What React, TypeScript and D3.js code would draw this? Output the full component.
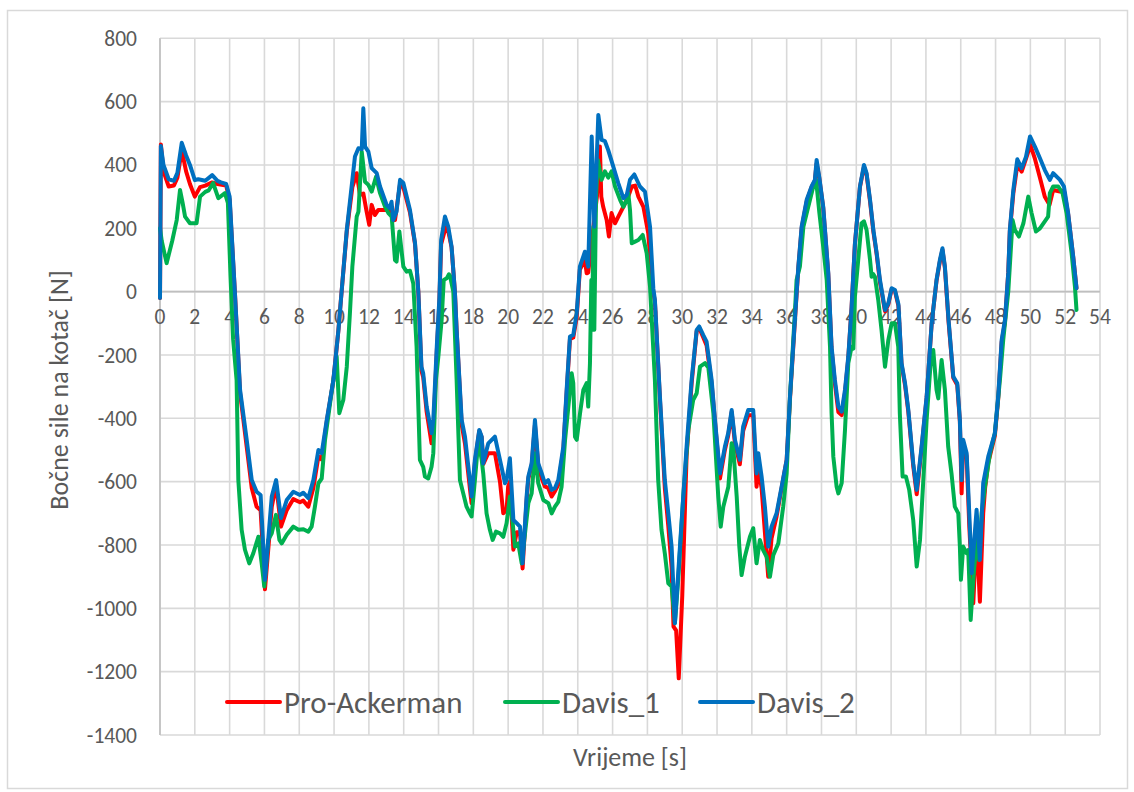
import React from "react";
import * as d3 from "d3";

// ---- data (time [s], lateral force [N]) ----
const xTicks = [0,2,4,6,8,10,12,14,16,18,20,22,24,26,28,30,32,34,36,38,40,42,44,46,48,50,52,54];
const yTicks = [800,600,400,200,0,-200,-400,-600,-800,-1000,-1200,-1400];
const seriesNames = ["Pro-Ackerman", "Davis_1", "Davis_2"];
const seriesColors = ["#FF0000", "#00B050", "#0070C0"];

const proAckerman: [number, number][] = [
  [0,-20],[0.05,465],[0.2,380],[0.5,332],[0.8,335],[1.0,360],[1.25,447],[1.5,380],[1.72,340],[2.0,300],[2.3,330],[2.6,335],[3.0,345],[3.3,340],[3.8,335],[4.0,290],[4.3,0],[4.6,-320],[4.98,-490],[5.27,-620],[5.55,-679],[5.78,-690],[6.03,-940],[6.42,-680],[6.67,-610],[6.95,-742],[7.28,-690],[7.66,-655],[8.04,-665],[8.23,-660],[8.52,-679],[8.81,-620],[9.1,-520],[9.29,-530],[9.58,-410],[9.96,-280],[10.25,-121],[10.44,5],[10.73,190],[11.05,330],[11.3,374],[11.49,305],[11.68,310],[11.87,253],[12.02,211],[12.16,274],[12.35,242],[12.54,258],[12.83,258],[13.2,258],[13.5,226],[13.79,340],[13.98,330],[14.36,250],[14.65,150],[14.84,0],[15.02,-250],[15.12,-270],[15.32,-380],[15.6,-479],[15.7,-440],[15.9,-190],[16.05,-30],[16.15,150],[16.47,215],[16.75,140],[16.94,0],[17.04,-121],[17.33,-420],[17.52,-480],[17.8,-620],[17.9,-668],[18.09,-540],[18.34,-440],[18.48,-460],[18.57,-545],[18.86,-510],[19.24,-510],[19.53,-600],[19.72,-700],[19.91,-690],[20.0,-615],[20.1,-600],[20.3,-815],[20.49,-760],[20.68,-760],[20.83,-874],[21.06,-660],[21.16,-590],[21.35,-550],[21.54,-420],[21.73,-550],[21.93,-590],[22.11,-615],[22.3,-620],[22.5,-647],[22.69,-630],[22.88,-610],[23.17,-500],[23.36,-320],[23.55,-150],[23.74,-145],[23.94,-80],[24.12,70],[24.41,100],[24.51,58],[24.6,60],[24.9,205],[25.1,300],[25.27,458],[25.35,300],[25.46,268],[25.66,226],[25.79,174],[25.94,248],[26.14,216],[26.33,237],[26.62,268],[26.9,300],[27.1,332],[27.3,335],[27.48,300],[27.77,268],[28.05,184],[28.3,10],[28.43,-30],[28.72,-340],[29.0,-620],[29.2,-740],[29.39,-870],[29.5,-1058],[29.65,-1070],[29.8,-1221],[30.0,-963],[30.25,-520],[30.54,-290],[30.83,-125],[30.98,-115],[31.21,-145],[31.4,-170],[31.69,-290],[31.88,-410],[32.17,-590],[32.45,-500],[32.64,-455],[32.84,-380],[33.03,-480],[33.31,-545],[33.5,-440],[33.79,-390],[34.08,-390],[34.27,-616],[34.37,-560],[34.56,-620],[34.75,-760],[34.94,-900],[35.13,-780],[35.42,-710],[35.71,-620],[36.0,-531],[36.19,-340],[36.47,-95],[36.67,75],[36.86,200],[37.15,285],[37.43,330],[37.62,350],[37.72,405],[37.87,360],[38.1,265],[38.39,55],[38.58,-180],[38.77,-290],[38.97,-380],[39.16,-390],[39.35,-320],[39.54,-210],[39.73,-50],[39.92,150],[40.21,330],[40.44,395],[40.59,370],[40.79,285],[40.98,190],[41.17,118],[41.36,30],[41.65,-62],[41.84,-40],[42.03,8],[42.22,2],[42.42,-45],[42.6,-230],[42.8,-295],[42.99,-380],[43.27,-550],[43.47,-640],[43.75,-495],[44.04,-335],[44.33,-100],[44.61,35],[44.8,95],[44.95,132],[45.09,75],[45.3,-95],[45.57,-272],[45.8,-295],[45.95,-410],[46.05,-637],[46.14,-480],[46.34,-520],[46.49,-740],[46.72,-984],[46.91,-760],[47.1,-979],[47.29,-700],[47.4,-620],[47.58,-540],[47.96,-455],[48.15,-340],[48.35,-160],[48.54,-95],[48.73,60],[48.82,190],[49.02,310],[49.25,400],[49.5,379],[49.75,420],[50.0,463],[50.26,420],[50.55,360],[50.83,300],[51.1,274],[51.31,321],[51.7,316],[51.93,320],[52.17,245],[52.46,110],[52.65,11]
];

const davis1: [number, number][] = [
  [0,200],[0.1,160],[0.38,90],[0.7,160],[0.96,226],[1.15,321],[1.3,280],[1.44,237],[1.72,216],[2.1,216],[2.3,300],[2.6,315],[2.8,320],[3.05,343],[3.35,295],[3.73,311],[3.9,280],[4.05,50],[4.2,-150],[4.4,-279],[4.5,-595],[4.69,-752],[4.88,-815],[5.13,-858],[5.36,-826],[5.65,-774],[5.84,-858],[5.99,-931],[6.22,-784],[6.42,-763],[6.66,-705],[6.86,-784],[6.99,-795],[7.28,-768],[7.66,-742],[7.95,-752],[8.24,-750],[8.52,-758],[8.71,-742],[8.9,-679],[9.1,-605],[9.29,-590],[9.48,-468],[9.77,-352],[9.96,-279],[10.15,-205],[10.3,-384],[10.53,-342],[10.73,-237],[10.91,-68],[11.05,79],[11.3,237],[11.4,253],[11.59,442],[11.78,347],[11.97,337],[12.16,316],[12.41,363],[12.64,311],[12.93,268],[13.12,248],[13.31,237],[13.5,100],[13.59,95],[13.75,190],[13.98,79],[14.17,63],[14.36,66],[14.55,26],[14.74,-174],[14.93,-531],[15.12,-553],[15.22,-584],[15.41,-590],[15.6,-553],[15.7,-510],[15.85,-279],[15.99,-205],[16.18,-89],[16.3,37],[16.47,42],[16.6,55],[16.66,50],[16.85,0],[17.04,-279],[17.23,-595],[17.42,-637],[17.61,-679],[17.8,-700],[17.9,-710],[18.09,-595],[18.29,-468],[18.48,-531],[18.57,-574],[18.76,-700],[18.95,-752],[19.11,-784],[19.3,-758],[19.53,-763],[19.72,-774],[19.91,-731],[20.1,-647],[20.26,-731],[20.39,-805],[20.58,-795],[20.78,-858],[20.97,-763],[21.16,-668],[21.35,-637],[21.54,-510],[21.73,-605],[22.02,-658],[22.31,-668],[22.5,-700],[22.69,-679],[22.88,-664],[23.07,-616],[23.27,-468],[23.46,-363],[23.65,-258],[23.74,-289],[23.84,-458],[23.94,-468],[24.13,-384],[24.32,-310],[24.51,-289],[24.6,-363],[24.7,-226],[24.78,37],[24.82,-120],[24.9,205],[24.95,-120],[25.05,300],[25.15,416],[25.37,353],[25.56,380],[25.75,360],[25.94,380],[26.14,332],[26.43,290],[26.62,268],[26.81,290],[26.9,311],[27.0,258],[27.1,153],[27.29,158],[27.48,163],[27.73,179],[27.96,121],[28.15,16],[28.43,-279],[28.62,-595],[28.81,-752],[29.0,-826],[29.2,-921],[29.39,-931],[29.58,-1047],[29.77,-910],[30.06,-647],[30.35,-437],[30.63,-342],[30.83,-321],[31.02,-237],[31.31,-226],[31.5,-240],[31.79,-384],[32.07,-647],[32.21,-742],[32.36,-679],[32.65,-616],[32.84,-479],[32.93,-490],[33.13,-647],[33.28,-805],[33.41,-895],[33.6,-837],[33.89,-774],[34.08,-747],[34.27,-858],[34.46,-784],[34.65,-816],[34.85,-837],[35.04,-900],[35.23,-832],[35.52,-795],[35.8,-679],[36.0,-574],[36.19,-332],[36.47,-68],[36.57,37],[36.76,79],[36.96,205],[37.24,268],[37.53,332],[37.69,353],[37.88,248],[38.1,142],[38.3,37],[38.49,-174],[38.58,-384],[38.68,-521],[38.87,-616],[38.97,-637],[39.16,-605],[39.35,-437],[39.54,-226],[39.73,-174],[39.83,-180],[39.92,-16],[40.11,100],[40.3,216],[40.44,222],[40.59,195],[40.79,100],[40.88,47],[40.98,55],[41.07,47],[41.26,-26],[41.45,-121],[41.65,-237],[41.84,-153],[42.03,-100],[42.22,-100],[42.41,-174],[42.5,-384],[42.66,-584],[42.85,-584],[43.04,-626],[43.27,-721],[43.47,-868],[43.66,-784],[43.85,-595],[44.04,-405],[44.27,-226],[44.42,-184],[44.61,-310],[44.71,-337],[44.9,-216],[45.09,-310],[45.28,-490],[45.47,-574],[45.66,-679],[45.86,-700],[45.95,-805],[46.01,-910],[46.14,-805],[46.34,-826],[46.43,-816],[46.57,-1037],[46.72,-910],[46.91,-784],[47.06,-847],[47.2,-700],[47.39,-616],[47.68,-510],[47.96,-447],[48.25,-279],[48.44,-153],[48.73,0],[48.98,226],[49.11,195],[49.34,174],[49.6,216],[49.88,300],[50.07,248],[50.32,190],[50.55,200],[50.83,222],[51.02,237],[51.12,311],[51.31,332],[51.6,332],[51.85,311],[52.08,248],[52.37,121],[52.56,16],[52.65,-58]
];

const davis2: [number, number][] = [
  [0,-20],[0.05,460],[0.2,400],[0.5,355],[0.8,350],[1.0,375],[1.25,470],[1.5,430],[1.72,400],[2.0,352],[2.2,355],[2.6,350],[3.0,368],[3.3,350],[3.5,345],[3.8,340],[4.0,300],[4.3,0],[4.6,-310],[4.98,-468],[5.27,-595],[5.55,-632],[5.78,-642],[6.03,-910],[6.42,-647],[6.67,-595],[6.95,-715],[7.28,-658],[7.66,-632],[8.04,-642],[8.23,-635],[8.52,-652],[8.81,-595],[9.1,-500],[9.29,-510],[9.58,-405],[9.96,-279],[10.25,-121],[10.44,5],[10.73,195],[11.2,427],[11.4,453],[11.59,450],[11.68,579],[11.78,458],[11.97,442],[12.16,390],[12.45,374],[12.64,332],[13.02,274],[13.2,264],[13.3,284],[13.4,226],[13.59,253],[13.79,353],[13.98,343],[14.36,258],[14.65,154],[14.84,0],[15.02,-237],[15.12,-258],[15.32,-363],[15.6,-447],[15.7,-405],[15.9,-174],[16.05,-20],[16.15,163],[16.37,237],[16.56,205],[16.75,142],[16.94,0],[17.04,-121],[17.33,-405],[17.52,-458],[17.8,-595],[17.9,-647],[18.09,-531],[18.34,-437],[18.48,-458],[18.57,-542],[18.76,-500],[18.86,-479],[19.24,-458],[19.53,-531],[19.82,-605],[19.91,-595],[20.1,-526],[20.3,-721],[20.49,-731],[20.68,-742],[20.83,-858],[21.06,-647],[21.16,-584],[21.35,-542],[21.54,-405],[21.73,-542],[21.93,-574],[22.11,-605],[22.3,-595],[22.5,-626],[22.69,-620],[22.88,-595],[23.17,-490],[23.36,-310],[23.55,-142],[23.74,-137],[23.94,-67],[24.12,79],[24.41,126],[24.6,79],[24.8,490],[24.95,205],[25.18,558],[25.37,479],[25.56,475],[25.75,447],[26.04,395],[26.33,342],[26.62,295],[26.81,305],[27.0,353],[27.25,370],[27.57,332],[27.86,316],[28.15,205],[28.34,10],[28.43,-26],[28.72,-332],[29.0,-595],[29.2,-700],[29.39,-805],[29.58,-1047],[29.77,-889],[29.97,-721],[30.25,-490],[30.54,-279],[30.83,-121],[30.98,-110],[31.21,-137],[31.4,-158],[31.69,-279],[31.88,-405],[32.17,-574],[32.45,-490],[32.64,-447],[32.84,-374],[33.03,-468],[33.31,-531],[33.5,-426],[33.79,-374],[34.08,-374],[34.27,-574],[34.37,-510],[34.56,-584],[34.75,-679],[34.94,-805],[35.13,-742],[35.42,-700],[35.71,-616],[36.0,-531],[36.19,-332],[36.47,-90],[36.67,79],[36.86,205],[37.15,290],[37.43,332],[37.62,353],[37.72,416],[37.87,363],[38.1,268],[38.39,60],[38.58,-174],[38.77,-279],[38.97,-363],[39.16,-379],[39.35,-310],[39.54,-205],[39.73,-50],[39.92,150],[40.21,332],[40.44,400],[40.59,374],[40.79,290],[40.98,195],[41.17,122],[41.36,37],[41.65,-58],[41.84,-37],[42.03,11],[42.22,5],[42.42,-40],[42.6,-226],[42.8,-289],[42.99,-374],[43.27,-542],[43.47,-626],[43.75,-490],[44.04,-332],[44.33,-100],[44.61,37],[44.8,100],[44.95,137],[45.09,79],[45.3,-89],[45.57,-268],[45.8,-289],[45.95,-405],[46.05,-595],[46.14,-468],[46.34,-510],[46.49,-700],[46.63,-889],[46.91,-689],[47.1,-847],[47.29,-605],[47.58,-521],[47.96,-447],[48.15,-332],[48.35,-153],[48.54,-89],[48.73,60],[48.82,195],[49.02,321],[49.25,418],[49.5,390],[49.75,426],[49.98,490],[50.26,458],[50.55,421],[50.83,384],[51.12,353],[51.31,374],[51.7,353],[51.93,332],[52.17,248],[52.46,111],[52.65,11]
];

const allSeries = [proAckerman, davis1, davis2];

const W = 1134, H = 792;
const plot = { left: 160, right: 1100, top: 38.3, bottom: 735 };
const FONT = "Calibri, Carlito, Lato, 'Liberation Sans', sans-serif";
const TEXT = "#595959";

export default function App() {
  const x = d3.scaleLinear().domain([0, 54]).range([plot.left, plot.right]);
  const y = d3.scaleLinear().domain([-1400, 800]).range([plot.bottom, plot.top]);
  const line = d3.line<[number, number]>().x(d => x(d[0])).y(d => y(d[1]));

  const legendItems = [
    { lx: 227, tx: 284 },
    { lx: 505, tx: 562 },
    { lx: 700, tx: 757 },
  ];
  const legendY = 702;

  return (
    <svg width={W} height={H} style={{ position: "absolute", left: 0, top: 0, background: "#fff" }}
      fontFamily={FONT}>
      <rect x={0} y={0} width={W} height={H} fill="#fff" />
      <rect x={7.5} y={10.5} width={1120} height={778} fill="none" stroke="#d9d9d9" strokeWidth={1.5} />
      {/* grid */}
      {yTicks.map(t => (
        <line key={"gy" + t} x1={plot.left} x2={plot.right} y1={y(t)} y2={y(t)} stroke="#d9d9d9" strokeWidth={1.6} />
      ))}
      {xTicks.map(t => (
        <line key={"gx" + t} x1={x(t)} x2={x(t)} y1={plot.top} y2={plot.bottom} stroke="#d9d9d9" strokeWidth={1.6} />
      ))}
      <line x1={plot.left} x2={plot.left} y1={plot.top} y2={plot.bottom} stroke="#bfbfbf" strokeWidth={1.6} />
      <line x1={plot.left} x2={plot.right} y1={y(0)} y2={y(0)} stroke="#bfbfbf" strokeWidth={1.6} />
      {/* y tick labels */}
      {yTicks.map(t => (
        <text key={"yl" + t} x={137} y={y(t)} dy="0.35em" textAnchor="end" fontSize={21.5} fill={TEXT}>{t}</text>
      ))}
      {/* x tick labels */}
      {xTicks.map(t => (
        <text key={"xl" + t} x={x(t)} y={y(0) + 32} textAnchor="middle" fontSize={21.5} fill={TEXT}>{t}</text>
      ))}
      {/* series */}
      {allSeries.map((s, i) => (
        <path key={"s" + i} d={line(s) || ""} fill="none" stroke={seriesColors[i]} strokeWidth={4}
          strokeLinejoin="round" strokeLinecap="round" />
      ))}
      {/* legend */}
      {legendItems.map((it, i) => (
        <g key={"lg" + i}>
          <line x1={it.lx} x2={it.lx + 53} y1={legendY} y2={legendY} stroke={seriesColors[i]} strokeWidth={4} strokeLinecap="round" />
          <text x={it.tx} y={legendY} dy="0.35em" fontSize={31} fill={TEXT}>{seriesNames[i]}</text>
        </g>
      ))}
      {/* axis titles */}
      <text x={630} y={757} dy="0.35em" textAnchor="middle" fontSize={26} fill={TEXT}>Vrijeme [s]</text>
      <text transform={`translate(59,390) rotate(-90)`} dy="0.35em" textAnchor="middle" fontSize={26} fill={TEXT}>Bočne sile na kotač [N]</text>
    </svg>
  );
}
